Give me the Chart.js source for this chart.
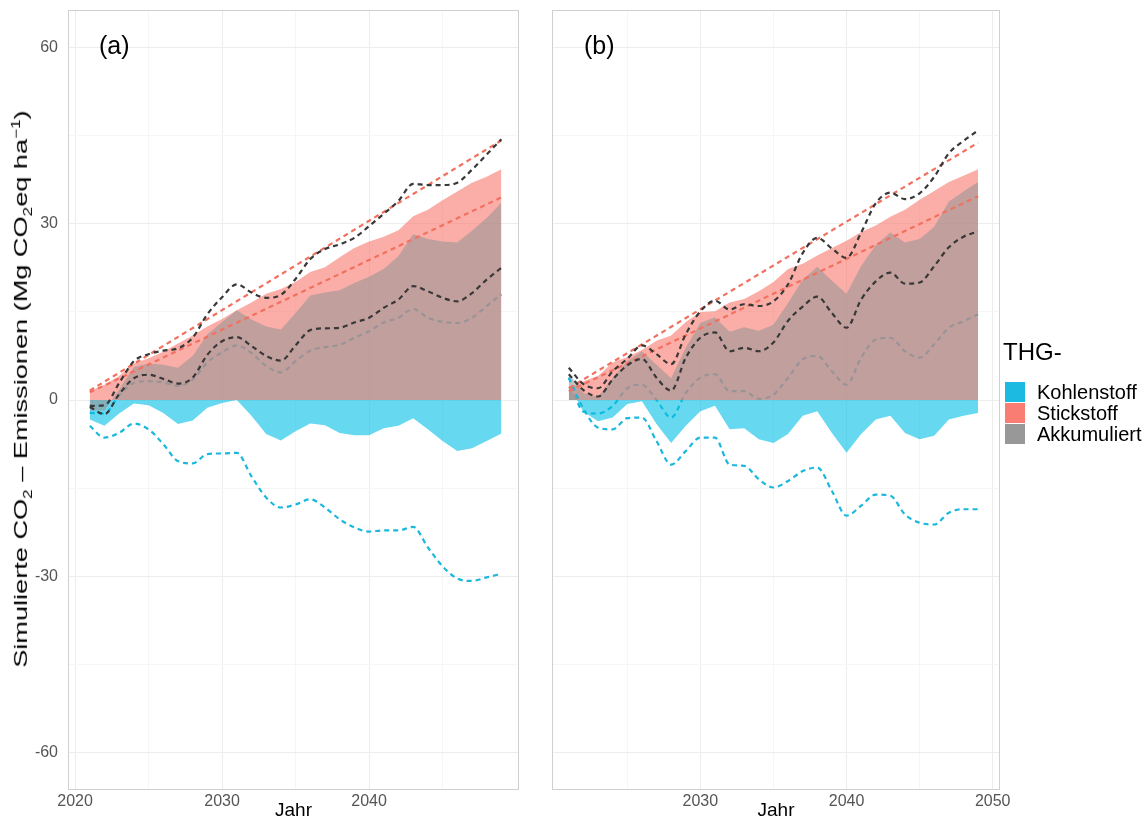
<!DOCTYPE html>
<html lang="de">
<head>
<meta charset="utf-8">
<title>Simulierte CO2-Emissionen</title>
<script src="https://cdn.jsdelivr.net/npm/chart.js@4.4.1/dist/chart.umd.min.js"></script>
<style>
  body { margin: 0; background: #fff; font-family: 'Liberation Sans', Arial, sans-serif; }
  #wrap { position: relative; width: 1144px; height: 822px; overflow: hidden; }
  canvas { position: absolute; top: 0; }
  #chartA { left: 0; }
  #chartB { left: 530px; }
  .panel-label { position: absolute; top: 31px; font-size: 25px; color: #000; z-index: 2; }
  #ytitle { position: absolute; left: 22px; top: 389px; font-size: 19px; color: #000; white-space: nowrap; z-index: 2; }
  #ytitle sub, #ytitle sup { font-size: 12px; }
  #legend { position: absolute; left: 1003px; top: 335px; z-index: 2; color: #000; }
  #legend .lg-title { font-size: 24px; line-height: 34px; margin-bottom: 13px; }
  #legend .lg-row { height: 21px; line-height: 21px; font-size: 20px; white-space: nowrap; }
  #legend .key { display: inline-block; width: 20px; height: 20px; vertical-align: top; margin: 0 12px 0 2px; }
</style>
</head>
<body>
<div id="wrap">
  <canvas id="chartA" width="530" height="822"></canvas>
  <canvas id="chartB" width="614" height="822"></canvas>
  <div class="panel-label" style="left:99px">(a)</div>
  <div class="panel-label" style="left:584px">(b)</div>
  <div id="ytitle">Simulierte CO<sub>2</sub> – Emissionen (Mg CO<sub>2</sub>eq ha<sup>−1</sup>)</div>
  <div id="legend">
    <div class="lg-title">THG-</div>
    <div class="lg-row"><span class="key" style="background:#1cb9e0"></span>Kohlenstoff</div>
    <div class="lg-row"><span class="key" style="background:#f97d72"></span>Stickstoff</div>
    <div class="lg-row"><span class="key" style="background:#989898"></span>Akkumuliert</div>
  </div>
</div>
<script>
// Daten
const jahre = [2021, 2022, 2023, 2024, 2025, 2026, 2027, 2028, 2029, 2030,
               2031, 2032, 2033, 2034, 2035, 2036, 2037, 2038, 2039, 2040,
               2041, 2042, 2043, 2044, 2045, 2046, 2047, 2048, 2049];
const jahreTrend = [2021, 2049];

// (a)
const kohlenstoffA = [-3.3, -4.4, -2.3, -0.6, -0.9, -2.2, -4.1, -3.5, -1.3, -0.5,
                      0.0, -2.7, -5.8, -6.9, -5.3, -4.0, -4.3, -5.6, -6.0, -6.0,
                      -4.8, -4.4, -3.1, -5.0, -7.0, -8.7, -8.2, -7.0, -5.7];
const stickstoffA = [1.5, 2.6, 4.1, 6.2, 7.1, 8.2, 9.6, 11.0, 12.5, 13.8,
                     15.3, 16.6, 18.1, 18.9, 20.1, 21.8, 22.6, 24.3, 25.9, 27.0,
                     27.8, 28.9, 31.3, 32.4, 34.0, 35.5, 37.0, 38.0, 39.3];
const akkumuliertA = [-1.8, -1.8, 1.8, 5.6, 6.2, 6.0, 5.5, 7.5, 11.2, 13.3,
                      15.3, 13.7, 12.5, 12.0, 14.8, 17.8, 18.3, 18.7, 19.9, 21.0,
                      22.3, 24.5, 28.2, 27.4, 27.0, 26.8, 28.8, 31.0, 33.6];
const akkOberA = [-1.0, -0.9, 2.9, 6.6, 7.8, 8.4, 8.8, 10.6, 14.6, 17.5,
                  19.7, 18.3, 17.4, 17.9, 20.6, 24.0, 25.7, 26.5, 27.6, 29.6,
                  31.7, 33.9, 36.8, 36.6, 36.6, 37.0, 39.2, 41.8, 44.4];
const akkUnterA = [-1.2, -2.4, 1.0, 3.7, 4.3, 3.6, 2.8, 3.8, 7.7, 10.0,
                   10.7, 9.2, 7.5, 6.7, 9.3, 11.9, 12.2, 12.3, 13.2, 14.0,
                   15.7, 17.1, 19.4, 18.5, 17.4, 16.8, 18.2, 20.5, 22.5];
const kohleOberA = [-2.2, -2.3, 0.8, 2.9, 3.2, 3.0, 2.4, 3.5, 6.4, 8.1,
                    9.3, 8.0, 5.8, 4.7, 6.6, 8.4, 9.0, 9.4, 10.6, 11.7,
                    13.2, 14.0, 15.5, 14.0, 13.3, 13.1, 14.0, 16.0, 18.0];
const kohleUnterA = [-4.4, -6.4, -5.6, -4.0, -5.0, -7.5, -10.4, -10.8, -9.2, -9.1,
                     -9.0, -13.0, -16.6, -18.3, -17.8, -16.9, -18.3, -20.3, -21.7, -22.4,
                     -22.2, -22.2, -21.6, -25.1, -28.3, -30.4, -30.8, -30.2, -29.6];
const stickTrendObenA = [1.6, 44.2];
const stickTrendUntenA = [1.3, 34.5];

// (b)
const kohlenstoffB = [2.5, -2.0, -3.6, -3.0, -0.7, -0.2, -4.1, -7.3, -4.4, -1.9,
                      -1.0, -5.0, -4.8, -6.7, -7.3, -5.8, -2.7, -1.9, -5.6, -9.0,
                      -5.8, -3.3, -2.7, -5.6, -6.7, -6.1, -3.3, -2.7, -2.2];
const stickstoffB = [2.0, 3.2, 4.1, 6.4, 7.3, 8.5, 10.1, 11.0, 13.3, 15.0,
                     15.1, 16.6, 17.2, 18.5, 20.1, 22.3, 23.2, 24.6, 25.9, 27.1,
                     28.6, 29.7, 31.2, 32.4, 34.1, 35.6, 37.1, 38.2, 39.3];
const akkumuliertB = [4.5, 1.2, 0.5, 3.8, 6.6, 8.3, 6.0, 3.7, 8.9, 13.1,
                      14.1, 11.6, 12.4, 11.8, 12.8, 16.5, 20.5, 22.7, 20.3, 18.1,
                      22.8, 26.4, 28.5, 26.8, 27.4, 29.5, 33.8, 35.5, 37.1];
const akkOberB = [5.5, 2.7, 2.0, 4.9, 7.0, 9.3, 7.8, 6.1, 11.2, 15.1,
                  16.9, 15.4, 16.3, 16.0, 16.8, 19.7, 25.0, 27.6, 25.8, 24.2,
                  28.5, 33.5, 35.3, 34.2, 35.2, 38.0, 42.0, 44.1, 45.9];
const akkUnterB = [4.4, 1.7, 0.6, 3.5, 5.9, 7.0, 3.8, 1.6, 7.2, 10.6,
                   11.5, 8.3, 8.9, 8.3, 9.8, 13.5, 15.9, 17.6, 14.8, 12.3,
                   17.1, 20.2, 21.7, 19.8, 20.0, 22.8, 26.0, 27.8, 28.7];
const kohleOberB = [3.8, -2.0, -2.3, -1.0, 2.0, 2.6, 0.0, -3.0, 1.2, 3.8,
                    4.4, 1.5, 1.5, 0.2, 0.9, 3.8, 6.9, 7.5, 4.9, 2.6,
                    7.2, 10.3, 10.6, 8.3, 7.2, 9.5, 12.3, 13.4, 14.6];
const kohleUnterB = [3.8, -1.5, -4.7, -5.0, -3.1, -3.0, -7.0, -11.0, -8.7, -6.4,
                     -6.4, -11.0, -11.2, -13.5, -14.9, -13.8, -12.1, -11.5, -15.5, -19.7,
                     -18.0, -16.1, -16.3, -19.5, -20.9, -21.2, -19.2, -18.6, -18.6];
const stickTrendObenB = [2.0, 43.8];
const stickTrendUntenB = [1.5, 34.7];

const yTicks = [-60, -45, -30, -15, 0, 15, 30, 45, 60];
const xTicksA = [2020, 2025, 2030, 2035, 2040, 2045];
const xTicksB = [2025, 2030, 2035, 2040, 2045, 2050];

// Farben
const farbeBlau = '#1ab8dc';
const farbeRot = '#f2705f';
const farbeSchwarz = '#383838';

function punkte(xs, ys) {
    return xs.map((x, i) => ({ x: x, y: ys[i] }))
}

function flaeche(ys, fill) {
    return {
        data: punkte(jahre, ys),
        fill: 'origin',
        backgroundColor: fill,
        borderWidth: 0,
        pointRadius: 0,
        tension: 0
    }
}

function linie(xs, ys, color) {
    return {
        data: punkte(xs, ys),
        fill: false,
        borderColor: color,
        borderWidth: 2.2,
        borderDash: [5, 4],
        pointRadius: 0,
        cubicInterpolationMode: 'monotone'
    }
}

// Rahmen um das Panel
const rahmen = {
    id: 'rahmen',
    afterDraw(chart) {
        const { ctx, chartArea: a } = chart
        ctx.save()
        ctx.strokeStyle = '#d0d0d0'
        ctx.lineWidth = 1
        ctx.strokeRect(a.left + 0.5, a.top + 0.5, a.right - a.left - 1, a.bottom - a.top - 1)
        ctx.restore()
    }
}

function panel(id, d, opt) {
    // first dataset is drawn on top
    const datasets = [
        linie(jahre, d.akkOber, farbeSchwarz),
        linie(jahre, d.akkUnter, farbeSchwarz),
        linie(jahreTrend, d.trendOben, farbeRot),
        linie(jahreTrend, d.trendUnten, farbeRot),
        linie(jahre, d.kohleUnter, farbeBlau),
        flaeche(d.akkumuliert, 'rgba(150, 150, 150, 0.57)'),
        flaeche(d.stickstoff, 'rgba(248, 118, 109, 0.6)'),
        flaeche(d.kohlenstoff, 'rgba(0, 190, 228, 0.6)'),
        linie(jahre, d.kohleOber, farbeBlau)
    ]
    return new Chart(document.getElementById(id), {
        type: 'line',
        data: { datasets: datasets },
        options: {
            responsive: false,
            animation: false,
            devicePixelRatio: 1,
            layout: { padding: { top: 10, right: opt.padRight, left: 0, bottom: 0 } },
            plugins: { legend: { display: false }, tooltip: { enabled: false } },
            scales: {
                x: {
                    type: 'linear',
                    min: opt.xmin,
                    max: opt.xmax,
                    afterBuildTicks: s => { s.ticks = opt.xTicks.map(v => ({ value: v })) },
                    afterFit: s => { s.height = 32; s.paddingLeft = 0; s.paddingRight = 0 },
                    border: { display: false },
                    grid: {
                        drawTicks: false,
                        color: c => (c.tick && c.tick.value % 10 === 0) ? '#ededed' : '#f6f6f6'
                    },
                    ticks: {
                        padding: 2,
                        maxRotation: 0,
                        autoSkip: false,
                        color: '#555',
                        font: { family: "'Liberation Sans', Arial, sans-serif", size: 16 },
                        callback: v => v % 10 === 0 ? String(v) : ''
                    },
                    title: {
                        display: true,
                        text: 'Jahr',
                        color: '#000',
                        padding: { top: 0, bottom: 0 },
                        font: { family: "'Liberation Sans', Arial, sans-serif", size: 19 }
                    }
                },
                y: {
                    min: -66.4,
                    max: 66.4,
                    afterBuildTicks: s => { s.ticks = yTicks.map(v => ({ value: v })) },
                    afterFit: s => { s.width = opt.yWidth; s.paddingTop = 0; s.paddingBottom = 0 },
                    border: { display: false },
                    grid: {
                        drawTicks: false,
                        color: c => (c.tick && c.tick.value % 30 === 0) ? '#ededed' : '#f6f6f6'
                    },
                    ticks: {
                        display: opt.yLabels,
                        padding: 10,
                        color: '#555',
                        font: { family: "'Liberation Sans', Arial, sans-serif", size: 16 },
                        callback: v => v % 30 === 0 ? String(v) : ''
                    }
                }
            }
        },
        plugins: [rahmen]
    })
}

const chartA = panel('chartA', {
    kohlenstoff: kohlenstoffA, stickstoff: stickstoffA, akkumuliert: akkumuliertA,
    akkOber: akkOberA, akkUnter: akkUnterA, kohleOber: kohleOberA, kohleUnter: kohleUnterA,
    trendOben: stickTrendObenA, trendUnten: stickTrendUntenA
}, { xmin: 2019.52, xmax: 2050.2, xTicks: xTicksA, yLabels: true, yWidth: 68, padRight: 11 })

const chartB = panel('chartB', {
    kohlenstoff: kohlenstoffB, stickstoff: stickstoffB, akkumuliert: akkumuliertB,
    akkOber: akkOberB, akkUnter: akkUnterB, kohleOber: kohleOberB, kohleUnter: kohleUnterB,
    trendOben: stickTrendObenB, trendUnten: stickTrendUntenB
}, { xmin: 2019.85, xmax: 2050.5, xTicks: xTicksB, yLabels: false, yWidth: 22, padRight: 144 })

// y-Achsentitel drehen und auf die Länge der Vorlage strecken
const yt = document.getElementById('ytitle')
const k = 557 / yt.offsetWidth
yt.style.transform = 'translate(-50%, -50%) rotate(-90deg) scaleX(' + k.toFixed(3) + ')'
</script>
</body>
</html>
